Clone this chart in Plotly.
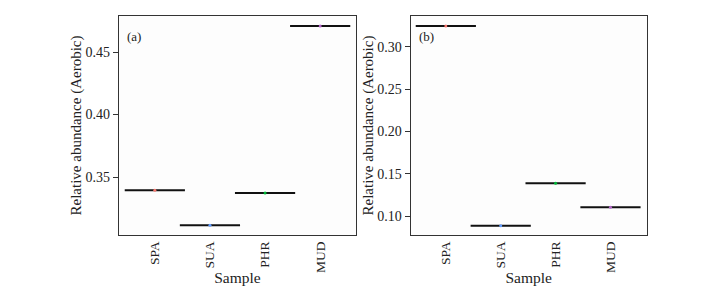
import plotly.graph_objects as go

samples = ["SPA", "SUA", "PHR", "MUD"]
aerobic_a = [0.3394, 0.3114, 0.3372, 0.4708]
aerobic_b = [0.3244, 0.0886, 0.1386, 0.1103]
dot_colors = ["#F8766D", "#619CFF", "#00BA38", "#B366C9"]
ticks_a = [0.35, 0.40, 0.45]
ticks_b = [0.10, 0.15, 0.20, 0.25, 0.30]

FONT = "Liberation Serif"
W, H = 722, 295

fig = go.Figure()

for vals, xa, ya in [(aerobic_a, "x", "y"), (aerobic_b, "x2", "y2")]:
    fig.add_trace(go.Scatter(
        x=samples, y=vals, mode="markers", xaxis=xa, yaxis=ya,
        marker=dict(symbol="line-ew", size=43, line=dict(width=2, color="#111111")),
        showlegend=False, hoverinfo="skip"))
    fig.add_trace(go.Scatter(
        x=samples, y=vals, mode="markers", xaxis=xa, yaxis=ya,
        marker=dict(symbol="circle", size=3, color=dot_colors),
        showlegend=False))

def px_x(p):
    return p / W

def px_y(p):
    return 1 - p / H

base = dict(
    showline=True, linecolor="#333333", linewidth=1.3, mirror=True,
    showgrid=False, zeroline=False, automargin=False,
    tickfont=dict(family=FONT, size=14, color="#222222"),
)
xax = dict(base, ticks="", tickangle=-90,
           tickfont=dict(family=FONT, size=13.5, color="#222222"),
           title=dict(text="Sample", standoff=0, font=dict(family=FONT, size=15.5)))
yax = dict(base, ticks="outside", ticklen=5, tickwidth=1.3, tickcolor="#333333",
           title=dict(text="Relative abundance (Aerobic)", standoff=0,
                      font=dict(family=FONT, size=15)))

fig.update_layout(
    width=W, height=H,
    margin=dict(l=0, r=0, t=0, b=0),
    paper_bgcolor="white", plot_bgcolor="#FDFDFD",
    font=dict(family=FONT, size=14, color="#222222"),
    xaxis=dict(xax, domain=[px_x(119), px_x(356)], range=[-0.65, 3.65]),
    yaxis=dict(yax, domain=[px_y(235), px_y(16)], range=[0.3036, 0.4788],
               tickvals=ticks_a, ticktext=[f"{v:.2f}" for v in ticks_a]),
    xaxis2=dict(xax, domain=[px_x(410.7), px_x(646.7)], range=[-0.64, 3.66],
                anchor="y2"),
    yaxis2=dict(yax, domain=[px_y(235), px_y(16)], range=[0.0776, 0.3362],
                anchor="x2",
                tickvals=ticks_b, ticktext=[f"{v:.2f}" for v in ticks_b]),
    annotations=[
        dict(text="(a)", xref="x domain", yref="y domain", x=0.025, y=0.905,
             xanchor="left", yanchor="middle", showarrow=False,
             font=dict(family=FONT, size=13, color="#222222")),
        dict(text="(b)", xref="x2 domain", yref="y2 domain", x=0.025, y=0.905,
             xanchor="left", yanchor="middle", showarrow=False,
             font=dict(family=FONT, size=13, color="#222222")),
    ],
)

fig.write_html("out.html", config={"displayModeBar": False},
               post_script="document.body.style.margin='0';document.body.style.overflow='hidden';")
